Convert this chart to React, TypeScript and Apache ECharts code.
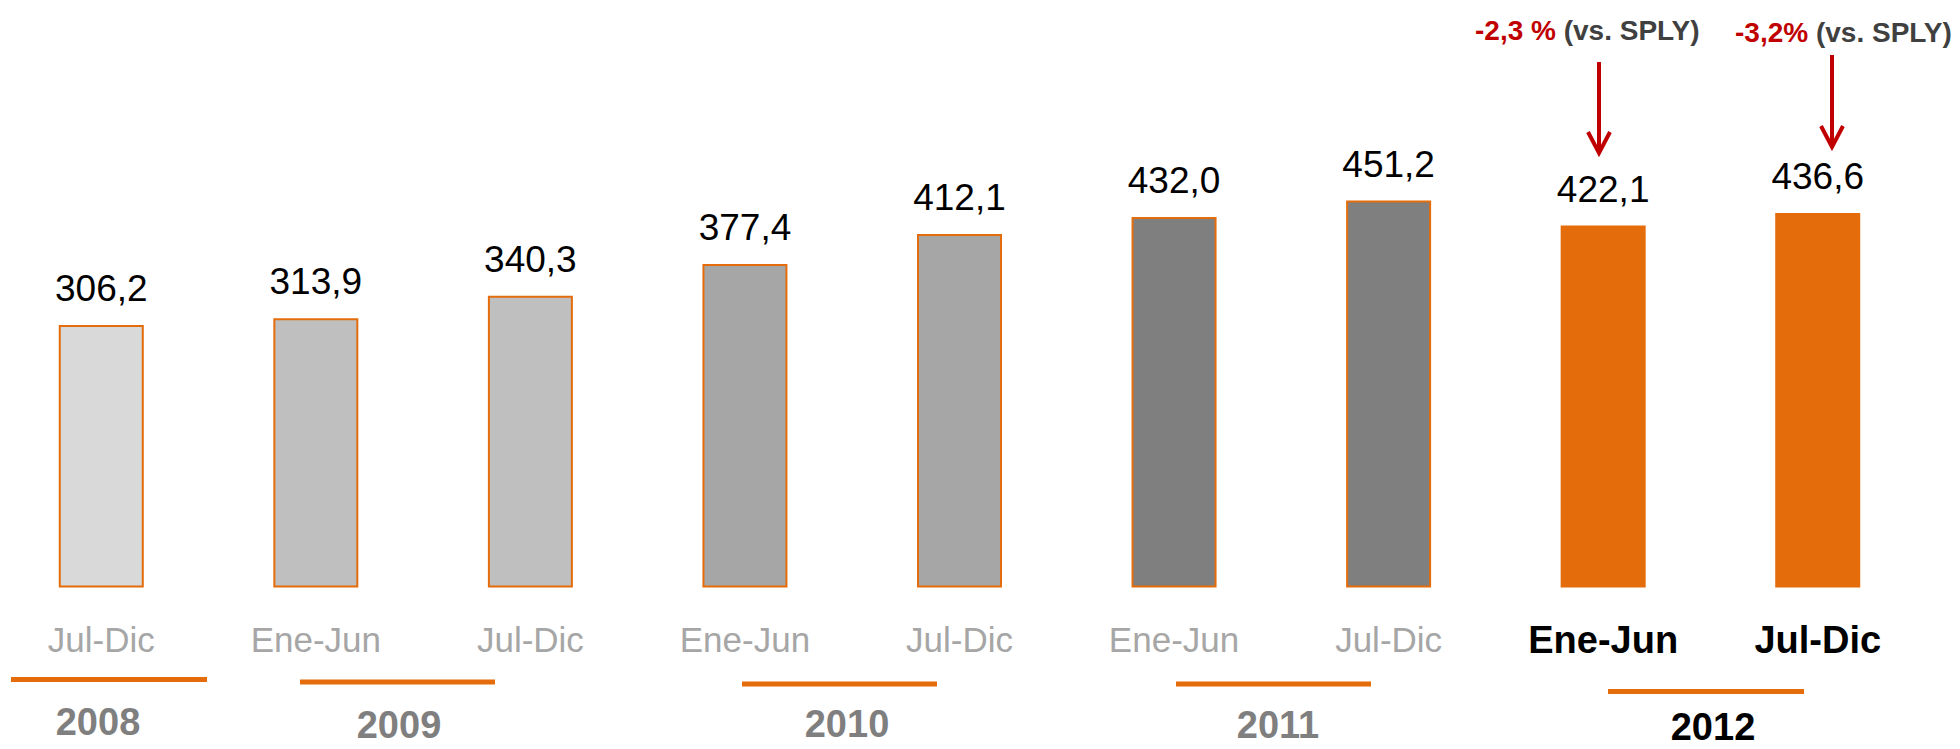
import React, { useEffect, useRef } from "react";
import * as echarts from "echarts";

const categories = ["Jul-Dic", "Ene-Jun", "Jul-Dic", "Ene-Jun", "Jul-Dic", "Ene-Jun", "Jul-Dic", "Ene-Jun", "Jul-Dic"];
const values = [306.2, 313.9, 340.3, 377.4, 412.1, 432.0, 451.2, 422.1, 436.6];
const barColors = ["#d9d9d9", "#bfbfbf", "#bfbfbf", "#a6a6a6", "#a6a6a6", "#7f7f7f", "#7f7f7f", "#e46c0a", "#e46c0a"];
const highlighted = [false, false, false, false, false, false, false, true, true];
const years = ["2008", "2009", "2010", "2011", "2012"];
const changes = ["-2,3 %", "-3,2%"];
const changeSuffix = "(vs. SPLY)";

const ORANGE = "#e46c0a";
const RED = "#c00000";
const SANS = "'Liberation Sans', Arial, sans-serif";

// layout for decorative year labels / underlines / arrows
const yearLayout = [
  { cx: 98, cy: 722, lx1: 11, lx2: 207, ly: 679.5 },
  { cx: 399, cy: 725, lx1: 300, lx2: 495, ly: 682 },
  { cx: 847, cy: 724, lx1: 742, lx2: 937, ly: 684 },
  { cx: 1278, cy: 725, lx1: 1176, lx2: 1371, ly: 684 },
  { cx: 1713, cy: 727, lx1: 1608, lx2: 1804, ly: 691.5 },
];
const annotLayout = [
  { tx: 1475, ty: 30, ax: 1599, ay1: 62, ay2: 153 },
  { tx: 1735, ty: 32, ax: 1832, ay1: 55, ay2: 147 },
];

export default function App() {
  const ref = useRef<HTMLDivElement>(null);
  useEffect(() => {
    if (!ref.current) return;
    const chart = echarts.init(ref.current, undefined, { renderer: "svg" });

    const graphic: any[] = [];
    years.forEach((y, i) => {
      const L = yearLayout[i];
      graphic.push({
        type: "line",
        shape: { x1: L.lx1, y1: L.ly, x2: L.lx2, y2: L.ly },
        style: { stroke: ORANGE, lineWidth: 5 },
      });
      graphic.push({
        type: "text",
        x: L.cx,
        y: L.cy,
        style: {
          text: y,
          fontFamily: SANS,
          fontWeight: "bold",
          fontSize: 38,
          lineHeight: 34,
          fill: i === years.length - 1 ? "#000000" : "#7f7f7f",
          align: "center",
          verticalAlign: "middle",
        },
      });
    });
    changes.forEach((c, i) => {
      const A = annotLayout[i];
      graphic.push({
        type: "text",
        x: A.tx,
        y: A.ty,
        style: {
          text: `{r|${c}} {g|${changeSuffix}}`,
          align: "left",
          verticalAlign: "middle",
          fontFamily: SANS,
          fontWeight: "bold",
          fontSize: 28,
          rich: {
            r: { fill: RED, fontFamily: SANS, fontWeight: "bold", fontSize: 28 },
            g: { fill: "#404040", fontFamily: SANS, fontWeight: "bold", fontSize: 28 },
          },
        },
      });
      graphic.push({
        type: "line",
        shape: { x1: A.ax, y1: A.ay1, x2: A.ax, y2: A.ay2 - 3 },
        style: { stroke: RED, lineWidth: 4 },
      });
      graphic.push({
        type: "polyline",
        shape: { points: [[A.ax - 11, A.ay2 - 21], [A.ax, A.ay2], [A.ax + 11, A.ay2 - 21]] },
        style: { stroke: RED, lineWidth: 4, fill: null },
      });
    });

    chart.setOption({
      animation: false,
      grid: { left: -6, width: 1931, top: 73, bottom: 161.5, outerBoundsMode: "none", containLabel: false },
      xAxis: {
        type: "category",
        data: categories.map((c, i) =>
          highlighted[i]
            ? {
                value: c,
                textStyle: {
                  color: "#000000",
                  fontFamily: SANS,
                  fontWeight: "bold",
                  fontSize: 38,
                  padding: i === 8 ? [0, 0, 6, 0] : 0,
                },
              }
            : c
        ),
        axisLine: { show: false },
        axisTick: { show: false },
        axisLabel: {
          interval: 0,
          margin: 30,
          color: "#a6a6a6",
          fontFamily: SANS,
          fontSize: 35,
          lineHeight: 44,
        },
      },
      yAxis: {
        type: "value",
        min: 0,
        max: 600,
        show: false,
        splitLine: { show: false },
      },
      graphic,
      series: [
        {
          type: "bar",
          barWidth: 85,
          data: values.map((v, i) => ({
            value: v,
            itemStyle: {
              color: barColors[i],
              borderColor: highlighted[i] ? barColors[i] : ORANGE,
              borderWidth: highlighted[i] ? 0 : 2,
            },
          })),
          label: {
            show: true,
            position: "top",
            distance: 18,
            color: "#000000",
            fontFamily: SANS,
            fontSize: 37,
            lineHeight: 37,
            formatter: (p: any) => Number(p.value).toFixed(1).replace(".", ","),
          },
        },
      ],
    });
    return () => chart.dispose();
  }, []);
  return <div ref={ref} style={{ position: "absolute", left: 0, top: 0, width: 1960, height: 749 }} />;
}
